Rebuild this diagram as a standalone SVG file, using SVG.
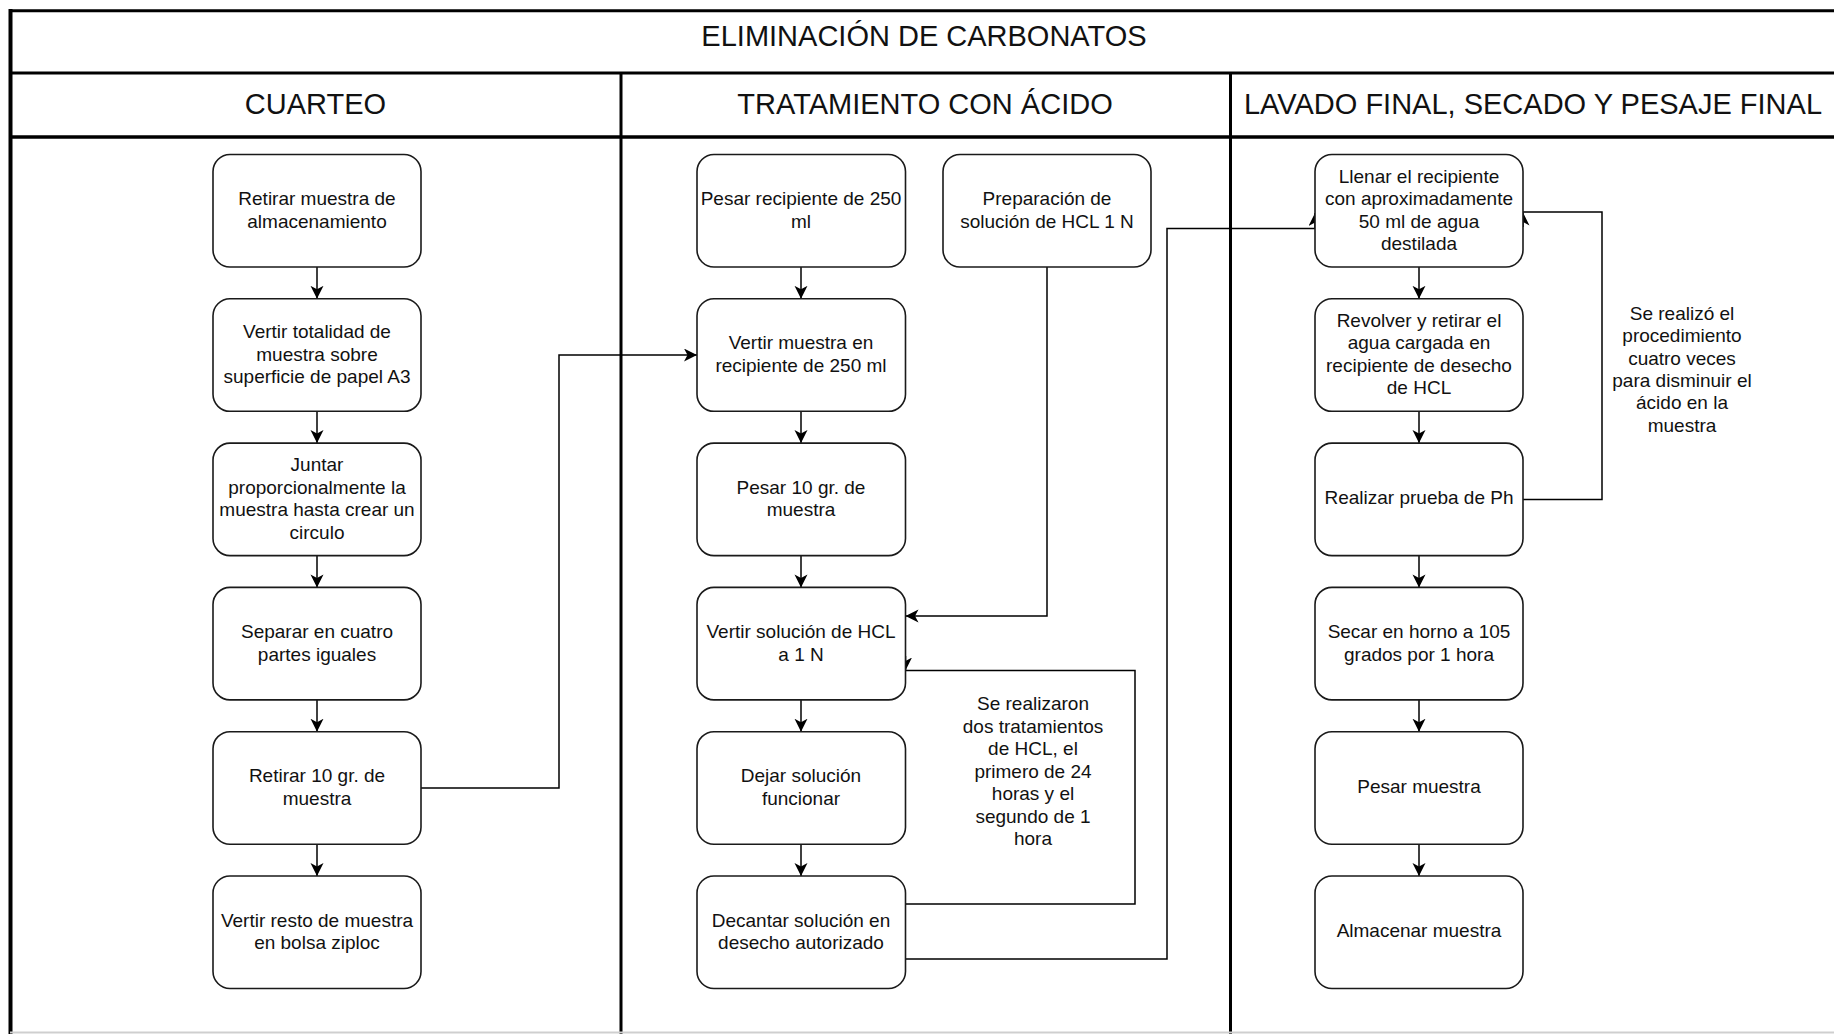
<svg xmlns="http://www.w3.org/2000/svg" width="1834" height="1034" viewBox="0 0 1834 1034">
<style>
.frame{stroke:#000;stroke-width:3;fill:none}
.box{fill:#fff;stroke:#1a1a1a;stroke-width:1.6}
.t{font-family:"Liberation Sans",Arial,Helvetica,sans-serif;font-size:19px;fill:#111;text-anchor:middle}
.h{font-family:"Liberation Sans",Arial,Helvetica,sans-serif;font-size:29px;fill:#111;text-anchor:middle}
.c{fill:none;stroke:#000;stroke-width:1.5}
.ca{fill:none;stroke:#000;stroke-width:1.5;marker-end:url(#arr)}
</style>
<defs>
<marker id="arr" markerUnits="userSpaceOnUse" markerWidth="16" markerHeight="16" refX="13" refY="6.5" orient="auto">
<path d="M0,0 L13,6.5 L0,13 L3.5,6.5 Z" fill="#000"/>
</marker>
</defs>
<rect width="1834" height="1034" fill="#fff"/>
<g id="frame">
<line class="frame" x1="10" y1="10.7" x2="1834" y2="10.7"/>
<line class="frame" x1="10" y1="73" x2="1834" y2="73"/>
<line class="frame" x1="10" y1="137" x2="1834" y2="137" style="stroke-width:3.5"/>
<line class="frame" x1="10.5" y1="9" x2="10.5" y2="1034" style="stroke-width:4"/>
<line class="frame" x1="621" y1="73" x2="621" y2="1034"/>
<line class="frame" x1="1230.5" y1="73" x2="1230.5" y2="1034"/>
<line x1="10" y1="1032.5" x2="1834" y2="1032.5" stroke="#cfcfcf" stroke-width="2"/>
<text class="h" x="924" y="46">ELIMINACIÓN DE CARBONATOS</text>
<text class="h" x="315.5" y="113.5">CUARTEO</text>
<text class="h" x="925" y="113.5">TRATAMIENTO CON ÁCIDO</text>
<text class="h" x="1533" y="113.5">LAVADO FINAL, SECADO Y PESAJE FINAL</text>
</g>
<g id="connectors">
<path class="ca" d="M317,267 V298.8"/>
<path class="ca" d="M317,411.3 V443.1"/>
<path class="ca" d="M317,555.6 V587.4"/>
<path class="ca" d="M317,699.9 V731.7"/>
<path class="ca" d="M317,844.2 V876"/>
<path class="ca" d="M421,788 H559 V355 H697"/>
<path class="ca" d="M801,267 V298.8"/>
<path class="ca" d="M801,411.3 V443.1"/>
<path class="ca" d="M801,555.6 V587.4"/>
<path class="ca" d="M801,699.9 V731.7"/>
<path class="ca" d="M801,844.2 V876"/>
<path class="ca" d="M1047,267 V616 H905.5"/>
<path class="c" d="M905.5,904 H1135 V670.5 H905.5"/>
<path class="ca" d="M905.5,656 V670.5"/>
<path class="ca" d="M905.5,959 H1167 V228.5 H1315 V213"/>
<path class="c" d="M1523,499.5 H1602 V212 H1523"/>
<path class="ca" d="M1523,227 V212.5"/>
<path class="ca" d="M1419,267 V298.8"/>
<path class="ca" d="M1419,411.3 V443.1"/>
<path class="ca" d="M1419,555.6 V587.4"/>
<path class="ca" d="M1419,699.9 V731.7"/>
<path class="ca" d="M1419,844.2 V876"/>
</g>
<g id="n1"><rect class="box" x="213" y="154.5" width="208" height="112.5" rx="17"/><text class="t" x="317" y="205.1">Retirar muestra de<tspan x="317" dy="22.5">almacenamiento</tspan></text></g>
<g id="n2"><rect class="box" x="213" y="298.8" width="208" height="112.5" rx="17"/><text class="t" x="317" y="338.2">Vertir totalidad de<tspan x="317" dy="22.5">muestra sobre</tspan><tspan x="317" dy="22.5">superficie de papel A3</tspan></text></g>
<g id="n3"><rect class="box" x="213" y="443.1" width="208" height="112.5" rx="17"/><text class="t" x="317" y="471.2">Juntar<tspan x="317" dy="22.5">proporcionalmente la</tspan><tspan x="317" dy="22.5">muestra hasta crear un</tspan><tspan x="317" dy="22.5">circulo</tspan></text></g>
<g id="n4"><rect class="box" x="213" y="587.4" width="208" height="112.5" rx="17"/><text class="t" x="317" y="638">Separar en cuatro<tspan x="317" dy="22.5">partes iguales</tspan></text></g>
<g id="n5"><rect class="box" x="213" y="731.7" width="208" height="112.5" rx="17"/><text class="t" x="317" y="782.3">Retirar 10 gr. de<tspan x="317" dy="22.5">muestra</tspan></text></g>
<g id="n6"><rect class="box" x="213" y="876" width="208" height="112.5" rx="17"/><text class="t" x="317" y="926.6">Vertir resto de muestra<tspan x="317" dy="22.5">en bolsa ziploc</tspan></text></g>
<g id="m1"><rect class="box" x="697" y="154.5" width="208.5" height="112.5" rx="17"/><text class="t" x="801" y="205.1">Pesar recipiente de 250<tspan x="801" dy="22.5">ml</tspan></text></g>
<g id="mp"><rect class="box" x="943" y="154.5" width="208" height="112.5" rx="17"/><text class="t" x="1047" y="205.1">Preparación de<tspan x="1047" dy="22.5">solución de HCL 1 N</tspan></text></g>
<g id="m2"><rect class="box" x="697" y="298.8" width="208.5" height="112.5" rx="17"/><text class="t" x="801" y="349.4">Vertir muestra en<tspan x="801" dy="22.5">recipiente de 250 ml</tspan></text></g>
<g id="m3"><rect class="box" x="697" y="443.1" width="208.5" height="112.5" rx="17"/><text class="t" x="801" y="493.7">Pesar 10 gr. de<tspan x="801" dy="22.5">muestra</tspan></text></g>
<g id="m4"><rect class="box" x="697" y="587.4" width="208.5" height="112.5" rx="17"/><text class="t" x="801" y="638">Vertir solución de HCL<tspan x="801" dy="22.5">a 1 N</tspan></text></g>
<g id="m5"><rect class="box" x="697" y="731.7" width="208.5" height="112.5" rx="17"/><text class="t" x="801" y="782.3">Dejar solución<tspan x="801" dy="22.5">funcionar</tspan></text></g>
<g id="m6"><rect class="box" x="697" y="876" width="208.5" height="112.5" rx="17"/><text class="t" x="801" y="926.6">Decantar solución en<tspan x="801" dy="22.5">desecho autorizado</tspan></text></g>
<g id="note1"><text class="t" x="1033" y="710">Se realizaron<tspan x="1033" dy="22.5">dos tratamientos</tspan><tspan x="1033" dy="22.5">de HCL, el</tspan><tspan x="1033" dy="22.5">primero de 24</tspan><tspan x="1033" dy="22.5">horas y el</tspan><tspan x="1033" dy="22.5">segundo de 1</tspan><tspan x="1033" dy="22.5">hora</tspan></text></g>
<g id="l1"><rect class="box" x="1315" y="154.5" width="208" height="112.5" rx="17"/><text class="t" x="1419" y="182.6">Llenar el recipiente<tspan x="1419" dy="22.5">con aproximadamente</tspan><tspan x="1419" dy="22.5">50 ml de agua</tspan><tspan x="1419" dy="22.5">destilada</tspan></text></g>
<g id="l2"><rect class="box" x="1315" y="298.8" width="208" height="112.5" rx="17"/><text class="t" x="1419" y="326.9">Revolver y retirar el<tspan x="1419" dy="22.5">agua cargada en</tspan><tspan x="1419" dy="22.5">recipiente de desecho</tspan><tspan x="1419" dy="22.5">de HCL</tspan></text></g>
<g id="l3"><rect class="box" x="1315" y="443.1" width="208" height="112.5" rx="17"/><text class="t" x="1419" y="504.4">Realizar prueba de Ph</text></g>
<g id="l4"><rect class="box" x="1315" y="587.4" width="208" height="112.5" rx="17"/><text class="t" x="1419" y="638">Secar en horno a 105<tspan x="1419" dy="22.5">grados por 1 hora</tspan></text></g>
<g id="l5"><rect class="box" x="1315" y="731.7" width="208" height="112.5" rx="17"/><text class="t" x="1419" y="793">Pesar muestra</text></g>
<g id="l6"><rect class="box" x="1315" y="876" width="208" height="112.5" rx="17"/><text class="t" x="1419" y="937.3">Almacenar muestra</text></g>
<g id="note2"><text class="t" x="1682" y="320">Se realizó el<tspan x="1682" dy="22.3">procedimiento</tspan><tspan x="1682" dy="22.3">cuatro veces</tspan><tspan x="1682" dy="22.3">para disminuir el</tspan><tspan x="1682" dy="22.3">ácido en la</tspan><tspan x="1682" dy="22.3">muestra</tspan></text></g>
</svg>
